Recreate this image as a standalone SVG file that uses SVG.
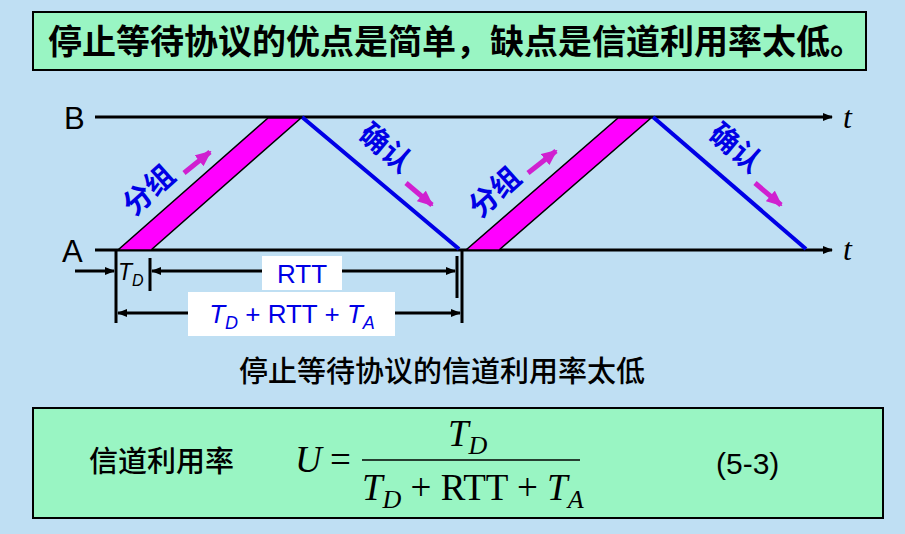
<svg xmlns="http://www.w3.org/2000/svg" width="905" height="534" viewBox="0 0 905 534">
<style>
.ln{stroke:#000;stroke-width:3;fill:none}
.cn{font-family:"Noto Sans CJK SC",sans-serif}
.blue{fill:#0000e6;font-weight:bold;font-size:29px}
.ser{font-family:"Liberation Serif",serif;font-size:37px}
</style>
<defs>
<marker id="ah" markerWidth="10" markerHeight="8" refX="9" refY="4" orient="auto" markerUnits="userSpaceOnUse"><path d="M0,0L10,4L0,8z" fill="#000"/></marker>
<marker id="mh" markerWidth="16" markerHeight="14" refX="14" refY="7" orient="auto" markerUnits="userSpaceOnUse"><path d="M0,0L16,7L0,14z" fill="#d020d0"/></marker>
</defs>
<rect width="905" height="534" fill="#bfdff3"/>
<g id="title"><rect x="33" y="12" width="833" height="58" fill="#99f5c3" stroke="#000" stroke-width="2"/>
<text x="48" y="54" class="cn" font-size="34" font-weight="bold">停止等待协议的优点是简单，缺点是信道利用率太低。</text></g>
<g id="connectors">
<line x1="95" y1="117" x2="832" y2="117" class="ln" stroke-width="2.5" marker-end="url(#ah)"/>
<line x1="95" y1="250" x2="832" y2="250" class="ln" stroke-width="2.5" marker-end="url(#ah)"/>
<line x1="302" y1="117" x2="459" y2="249" stroke="#0000e6" stroke-width="4"/>
<line x1="653" y1="117" x2="806" y2="249" stroke="#0000e6" stroke-width="4"/>
<line x1="116" y1="250" x2="116" y2="323" class="ln"/>
<line x1="462" y1="250" x2="462" y2="323" class="ln"/>
<line x1="150" y1="258" x2="150" y2="291" class="ln"/>
<line x1="457" y1="256" x2="457" y2="298" class="ln"/>
<line x1="75" y1="271" x2="114" y2="271" class="ln" stroke-width="2" marker-end="url(#ah)"/>
<line x1="262" y1="271" x2="152" y2="271" class="ln" stroke-width="2" marker-end="url(#ah)"/>
<line x1="340" y1="271" x2="455" y2="271" class="ln" stroke-width="2" marker-end="url(#ah)"/>
<line x1="190" y1="313" x2="118" y2="313" class="ln" stroke-width="2" marker-end="url(#ah)"/>
<line x1="393" y1="313" x2="460" y2="313" class="ln" stroke-width="2" marker-end="url(#ah)"/>
<line x1="184" y1="173" x2="210" y2="152" stroke="#d020d0" stroke-width="5" marker-end="url(#mh)"/>
<line x1="406" y1="183" x2="432" y2="205" stroke="#d020d0" stroke-width="5" marker-end="url(#mh)"/>
<line x1="528" y1="173" x2="556" y2="151" stroke="#d020d0" stroke-width="5" marker-end="url(#mh)"/>
<line x1="755" y1="183" x2="781" y2="205" stroke="#d020d0" stroke-width="5" marker-end="url(#mh)"/>
</g>
<g id="packet1"><polygon points="118,250 151,250 301,118 268,118" fill="#ff00ff" stroke="#000" stroke-width="1.5"/></g>
<g id="packet2"><polygon points="466,250 499,250 651,118 618,118" fill="#ff00ff" stroke="#000" stroke-width="1.5"/></g>
<g id="labels">
<text x="64" y="129" font-family="Liberation Sans,sans-serif" font-size="31">B</text>
<text x="62" y="262" font-family="Liberation Sans,sans-serif" font-size="31">A</text>
<text x="843" y="128" font-family="Liberation Serif,serif" font-style="italic" font-size="32">t</text>
<text x="843" y="260" font-family="Liberation Serif,serif" font-style="italic" font-size="32">t</text>
<text class="cn blue" transform="translate(134,217) rotate(-42)">分组</text>
<text class="cn blue" transform="translate(480,219) rotate(-42)">分组</text>
<text class="cn blue" transform="translate(357,137) rotate(40)">确认</text>
<text class="cn blue" transform="translate(707,137) rotate(40)">确认</text>
<text x="118" y="280" font-family="Liberation Sans,sans-serif" font-style="italic" font-size="23">T<tspan font-size="16" dy="6">D</tspan></text>
<rect x="262" y="256" width="80" height="34" fill="#fff"/>
<text x="302" y="283" text-anchor="middle" font-family="Liberation Sans,sans-serif" font-size="26" fill="#0000e6">RTT</text>
<rect x="188" y="292" width="207" height="44" fill="#fff"/>
<text x="292" y="323" text-anchor="middle" font-family="Liberation Sans,sans-serif" font-size="26" fill="#0000e6"><tspan font-style="italic">T</tspan><tspan font-style="italic" font-size="18" dy="6">D</tspan><tspan dy="-6"> + RTT + </tspan><tspan font-style="italic">T</tspan><tspan font-style="italic" font-size="18" dy="6">A</tspan></text>
<text x="442" y="382" text-anchor="middle" class="cn" font-size="29" font-weight="500">停止等待协议的信道利用率太低</text>
</g>
<g id="formula"><rect x="33" y="408" width="850" height="110" fill="#99f5c3" stroke="#000" stroke-width="2"/>
<text x="89" y="472" class="cn" font-size="29" font-weight="500">信道利用率</text>
<text x="295" y="472" class="ser" font-style="italic">U</text>
<text x="330" y="472" class="ser">=</text>
<line x1="362" y1="460" x2="580" y2="460" stroke="#000" stroke-width="1.5"/>
<text x="448" y="446" class="ser"><tspan font-style="italic">T</tspan><tspan font-style="italic" font-size="26" dy="8">D</tspan></text>
<text x="362" y="500" class="ser"><tspan font-style="italic">T</tspan><tspan font-style="italic" font-size="26" dy="8">D</tspan><tspan dy="-8"> + RTT + </tspan><tspan font-style="italic">T</tspan><tspan font-style="italic" font-size="26" dy="8">A</tspan></text>
<text x="716" y="474" font-family="Liberation Sans,sans-serif" font-size="30">(5-3)</text>
</g>
</svg>
